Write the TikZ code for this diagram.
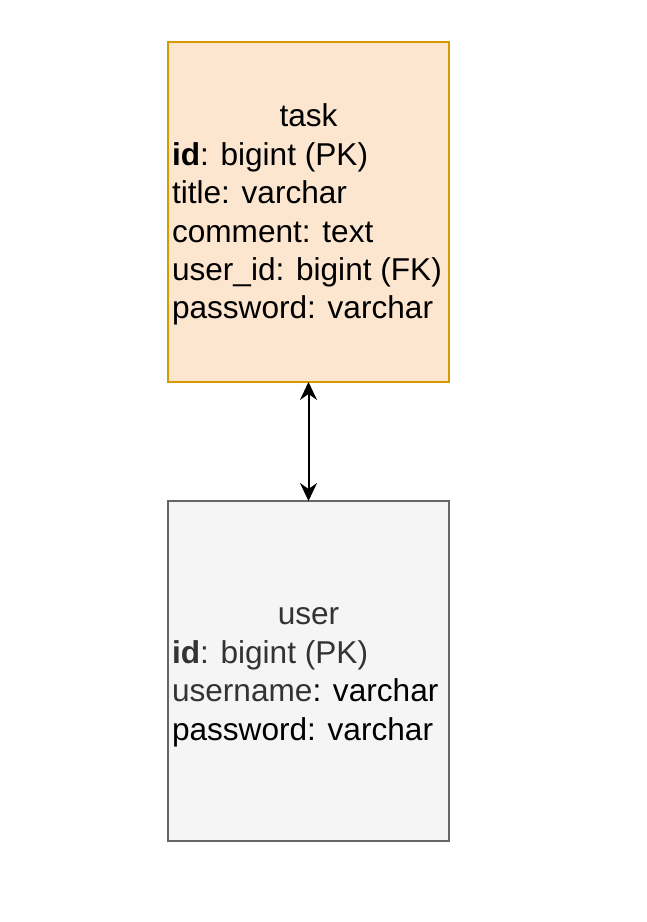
\documentclass[tikz,border=0pt]{standalone}
\usepackage{fontspec}
\setmainfont{Liberation Sans}
\usetikzlibrary{arrows.meta}
\definecolor{taskfill}{HTML}{FCE6CF}
\definecolor{taskstroke}{HTML}{D79B00}
\definecolor{userfill}{HTML}{F5F5F5}
\definecolor{userstroke}{HTML}{666666}
\definecolor{usertext}{HTML}{333333}
\tikzset{
  entity/.style={draw, line width=1.3pt, minimum width=281pt, minimum height=340pt, inner sep=0pt, outer sep=0pt},
  txt/.style={font=\fontsize{31.6}{38.4}\selectfont, inner sep=0pt, outer sep=0pt},
  rel/.style={line width=2pt, {Stealth[length=18pt,width=17pt,inset=6pt]}-{Stealth[length=18pt,width=17pt,inset=6pt]}}
}
\begin{document}
\begin{tikzpicture}[x=1pt,y=1pt]
\useasboundingbox (0,0) rectangle (646,922);
\node[entity, fill=taskfill, draw=taskstroke] (task) at (308.5,710) {};
\node[entity, fill=userfill, draw=userstroke] (user) at (308.5,251) {};
% task text
\node[txt, anchor=base] (t0) at (308.5,795) {task};
\node[txt, anchor=base west] (t1) at (172,756.6) {\textbf{id}: bigint (PK)};
\node[txt, anchor=base west] (t2) at (172,718.2) {title: varchar};
\node[txt, anchor=base west] (t3) at (172,679.8) {comment: text};
\node[txt, anchor=base west] (t4) at (172,641.4) {user\_id: bigint (FK)};
\node[txt, anchor=base west] (t5) at (172,603) {password: varchar};
% user text
\node[txt, anchor=base, text=usertext] (u0) at (308.5,297) {user};
\node[txt, anchor=base west, text=usertext] (u1) at (172,258.6) {\textbf{id}: bigint (PK)};
\node[txt, anchor=base west] (u2) at (172,220.2) {\textcolor{usertext}{username}: varchar};
\node[txt, anchor=base west] (u3) at (172,181.8) {password: varchar};
\draw[rel] (task.south) -- (user.north);
\end{tikzpicture}
\end{document}
